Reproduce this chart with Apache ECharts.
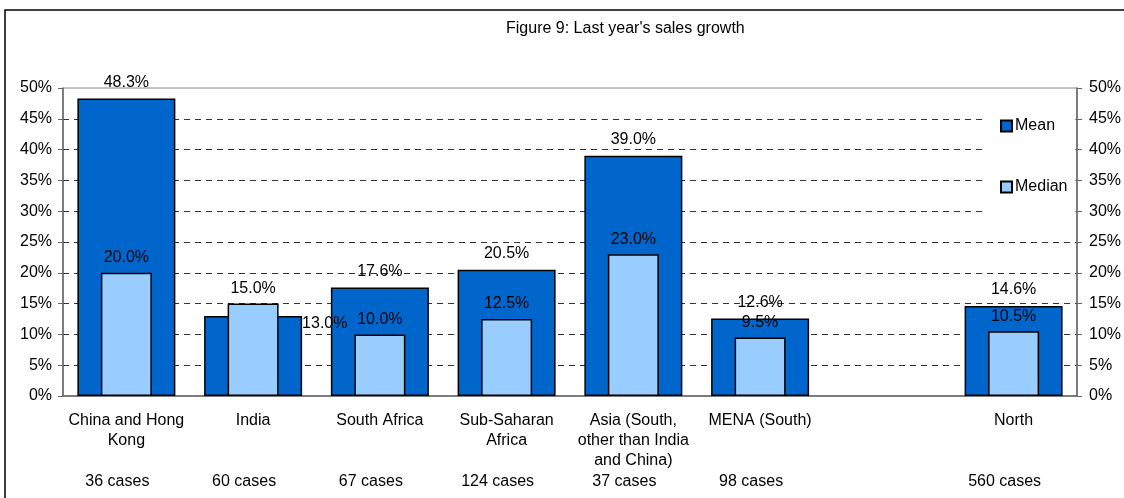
<!DOCTYPE html>
<html>
    <head>
        <meta charset="utf-8">
        <script src="https://cdn.jsdelivr.net/npm/echarts@6/dist/echarts.min.js"></script>
        <style type="text/css">
            #main {height:498px;width:1124px;position:absolute;}
            body {margin:0px;padding:0px;overflow:hidden;background:#fff;}
        </style>
    </head>
    <body>
        <div id="main"></div>
        <script type="text/javascript">
            // data
            let categories = ['China and Hong\nKong', 'India', 'South Africa', 'Sub-Saharan\nAfrica',
                'Asia (South,\nother than India\nand China)', 'MENA (South)', '', 'North'];
            let cases = ['36 cases', '60 cases', '67 cases', '124 cases', '37 cases', '98 cases', '', '560 cases'];
            let meanValues = [48.3, 13.0, 17.6, 20.5, 39.0, 12.6, null, 14.6];
            let medianValues = [20.0, 15.0, 10.0, 12.5, 23.0, 9.5, null, 10.5];
            let seriesNames = ['Mean', 'Median'];

            let font = 'Liberation Sans, Arial, sans-serif';
            let myChart = echarts.init(document.getElementById('main'));

            // India's mean label sits to the right of the bar in the original
            let meanData = meanValues.map(function (v, i) {
                if (i === 1) {
                    return {value: v, label: {position: ['100%', '0%'], distance: 0}};
                }
                return v;
            });

            let gridColors = ['transparent', '#333', '#333', '#333', '#333', '#333', '#333', '#333', '#333', '#333'];

            let option = {
                animation: false,
                backgroundColor: '#fff',
                textStyle: {fontFamily: font, color: '#000'},
                title: {
                    text: "Figure 9: Last year's sales growth",
                    left: 501,
                    top: 16,
                    textStyle: {fontFamily: font, fontSize: 16, fontWeight: 'normal', color: '#000'}
                },
                graphic: [{
                    type: 'rect',
                    z: -10,
                    shape: {x: 5, y: 10, width: 1300, height: 700},
                    style: {fill: 'none', stroke: '#000', lineWidth: 1.5}
                }],
                legend: {
                    orient: 'vertical',
                    left: 983,
                    top: 98,
                    padding: [20, 8, 34, 17],
                    backgroundColor: '#fff',
                    itemWidth: 11,
                    itemHeight: 11,
                    itemGap: 45,
                    icon: 'rect',
                    data: seriesNames,
                    textStyle: {fontFamily: font, fontSize: 16, color: '#000', padding: [0, 0, 0, -2]}
                },
                grid: {
                    left: 63, right: 45, top: 88, bottom: 102,
                    show: true,
                    borderColor: '#888',
                    borderWidth: 1
                },
                xAxis: [{
                    type: 'category',
                    data: categories,
                    axisLine: {lineStyle: {color: '#666', width: 1.5}},
                    axisTick: {length: 5, lineStyle: {color: '#666'}},
                    axisLabel: {
                        interval: 0,
                        margin: 15,
                        fontFamily: font,
                        fontSize: 16,
                        lineHeight: 20,
                        color: '#000'
                    }
                }, {
                    type: 'category',
                    data: cases,
                    position: 'bottom',
                    axisLine: {show: false},
                    axisTick: {show: false},
                    axisLabel: {
                        interval: 0,
                        margin: 78,
                        fontFamily: font,
                        fontSize: 16,
                        color: '#000',
                        padding: [0, 18, 0, 0]
                    }
                }],
                yAxis: [{
                    type: 'value',
                    min: 0,
                    max: 50,
                    interval: 5,
                    axisLine: {show: true, lineStyle: {color: '#666', width: 1.5}},
                    axisTick: {show: true, length: 5, lineStyle: {color: '#666'}},
                    axisLabel: {formatter: '{value}%', fontFamily: font, fontSize: 16, color: '#000', margin: 11},
                    splitLine: {show: true, lineStyle: {color: gridColors, type: [6, 5], width: 1}}
                }, {
                    type: 'value',
                    position: 'right',
                    min: 0,
                    max: 50,
                    interval: 5,
                    axisLine: {show: true, lineStyle: {color: '#666', width: 1.5}},
                    axisTick: {show: true, length: 5, lineStyle: {color: '#666'}},
                    axisLabel: {formatter: '{value}%', fontFamily: font, fontSize: 16, color: '#000', margin: 12},
                    splitLine: {show: false}
                }],
                series: [{
                    name: seriesNames[0],
                    type: 'bar',
                    xAxisIndex: 0,
                    yAxisIndex: 0,
                    barWidth: 98,
                    data: meanData,
                    itemStyle: {color: '#0066cc', borderColor: '#000', borderWidth: 1.5},
                    label: {
                        show: true,
                        position: 'top',
                        distance: 8,
                        fontFamily: font,
                        fontSize: 16,
                        color: '#000',
                        formatter: function (p) { return p.value.toFixed(1) + '%'; }
                    }
                }, {
                    name: seriesNames[1],
                    type: 'bar',
                    xAxisIndex: 1,
                    yAxisIndex: 0,
                    barWidth: 51,
                    data: medianValues,
                    itemStyle: {color: '#99ccff', borderColor: '#000', borderWidth: 1.5},
                    label: {
                        show: true,
                        position: 'top',
                        distance: 7,
                        fontFamily: font,
                        fontSize: 16,
                        color: '#000',
                        formatter: function (p) { return p.value.toFixed(1) + '%'; }
                    }
                }]
            };

            myChart.setOption(option);
            window.onresize = myChart.resize;
        </script>
    </body>
</html>
